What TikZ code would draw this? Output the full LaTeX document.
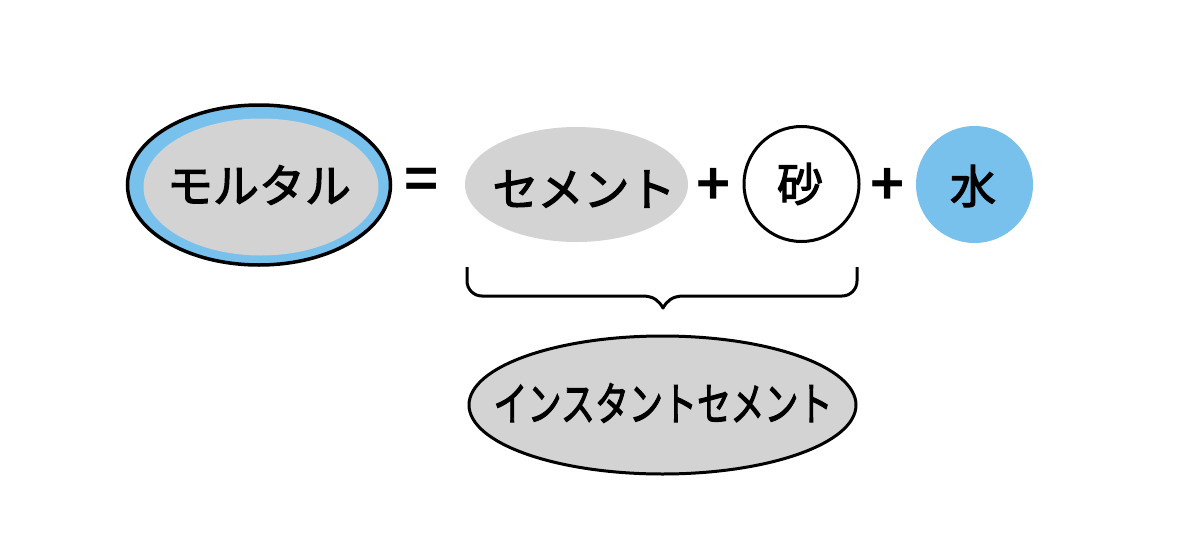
\documentclass[tikz,border=0pt]{standalone}
\usepackage{fontspec}
\usepackage{graphicx}
\usetikzlibrary{shapes.geometric}
\newfontfamily\jp{Noto Sans CJK JP}[FakeBold=2.5]
\newfontfamily\jpb{Noto Sans CJK JP}[BoldFont={* Bold}]
\definecolor{lblue}{RGB}{120,193,237}
\definecolor{lgrey}{RGB}{211,211,211}
\tikzset{
  lbl/.style={font=\jp\fontsize{46}{50}\selectfont, text=black, inner sep=0},
  sym/.style={font=\jpb\bfseries\fontsize{58}{62}\selectfont, text=black, inner sep=0},
  oval/.style={ellipse, inner sep=0},
}
\begin{document}
\begin{tikzpicture}[x=1pt,y=-1pt]
\useasboundingbox[fill=white] (0,0) rectangle (1200,557);
% Mortar
\node[oval, fill=lblue, draw=black, line width=3.5pt, minimum width=263pt, minimum height=160pt] (mortar) at (259,185) {};
\node[oval, fill=lgrey, minimum width=235pt, minimum height=137pt] (mortarin) at (261,187) {};
\node[lbl] (mortart) at (259,185) {モルタル};
\node[sym] (eq) at (422,184) {=};
% Cement
\node[oval, fill=lgrey, minimum width=223pt, minimum height=115pt] (cement) at (576.5,184.5) {};
\node[lbl] (cementt) at (584,189) {セメント};
\node[sym] (p1) at (714,187) {+};
% Sand
\node[circle, draw=black, line width=3pt, fill=white, minimum size=115pt, inner sep=0] (sand) at (801.5,184) {};
\node[lbl] (sandt) at (800,184) {砂};
\node[sym] (p2) at (887.5,187) {+};
% Water
\node[circle, fill=lblue, minimum size=117pt, inner sep=0] (water) at (974.5,184.5) {};
\node[lbl] (watert) at (973,186) {水};
% Brace
\coordinate (bl) at (467,267);
\coordinate (br) at (857,267);
\coordinate (bt) at (663,308);
\draw[line width=3pt, line join=round] (bl) -- (467,281) to[out=-90,in=180] (482,296) -- (642,296)
  .. controls (654,296) and (659,301) .. (bt)
  .. controls (667,301) and (672,296) .. (684,296) -- (842,296) to[out=0,in=-90] (857,281) -- (br);
% Instant cement
\node[oval, fill=lgrey, draw=black, line width=3pt, minimum width=387pt, minimum height=138pt] (instant) at (662.5,405) {};
\node[lbl] (instantt) at (663,403) {\scalebox{0.74}[1]{インスタントセメント}};
\end{tikzpicture}
\end{document}
